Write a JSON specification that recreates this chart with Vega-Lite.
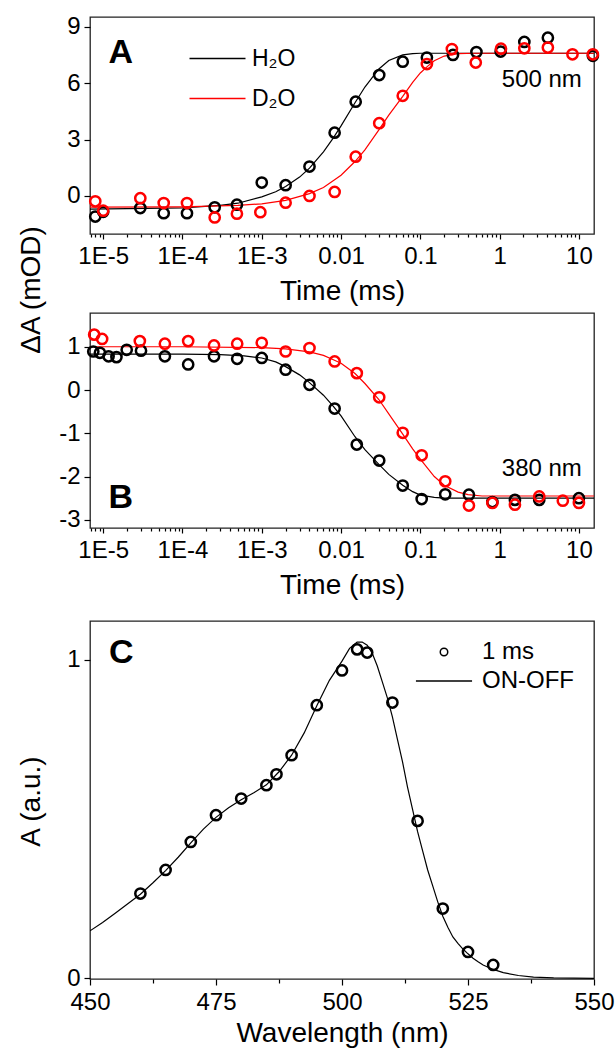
{
  "$schema": "https://vega.github.io/schema/vega-lite/v6.json",
  "padding": {"left": 16, "top": 14, "right": 5, "bottom": 0},
  "background": "white",
  "config": {
    "font": "Liberation Sans",
    "view": {"stroke": "#222", "strokeWidth": 1.3},
    "axis": {"labelFont": "Liberation Sans", "titleFont": "Liberation Sans", "labelFontSize": 24, "titleFontSize": 28, "titleFontWeight": "normal", "labelColor": "#000", "titleColor": "#000", "tickColor": "#000", "tickWidth": 1.2, "domain": false, "grid": false},
    "legend": {"labelFont": "Liberation Sans", "labelFontSize": 24, "labelColor": "#000"},
    "text": {"font": "Liberation Sans", "color": "#000"}
  },
  "resolve": {"legend": {"color": "independent", "stroke": "independent", "shape": "independent"}},
  "datasets": {
    "ap": [
      {"t": 7.95e-6, "v": -1.10, "s": "H₂O"}, {"t": 1e-5, "v": -0.85, "s": "H₂O"}, {"t": 2.94e-5, "v": -0.65, "s": "H₂O"}, {"t": 5.8e-5, "v": -0.92, "s": "H₂O"}, {"t": 1.14e-4, "v": -0.92, "s": "H₂O"}, {"t": 2.55e-4, "v": -0.61, "s": "H₂O"}, {"t": 4.86e-4, "v": -0.47, "s": "H₂O"}, {"t": 1e-3, "v": 0.71, "s": "H₂O"}, {"t": 2e-3, "v": 0.57, "s": "H₂O"}, {"t": 4e-3, "v": 1.56, "s": "H₂O"}, {"t": 8.3e-3, "v": 3.37, "s": "H₂O"}, {"t": 0.0153, "v": 5.02, "s": "H₂O"}, {"t": 0.0303, "v": 6.44, "s": "H₂O"}, {"t": 0.06, "v": 7.15, "s": "H₂O"}, {"t": 0.121, "v": 7.37, "s": "H₂O"}, {"t": 0.258, "v": 7.51, "s": "H₂O"}, {"t": 0.51, "v": 7.66, "s": "H₂O"}, {"t": 1.03, "v": 7.69, "s": "H₂O"}, {"t": 2.05, "v": 8.2, "s": "H₂O"}, {"t": 4.06, "v": 8.43, "s": "H₂O"}, {"t": 15, "v": 7.46, "s": "H₂O"},
      {"t": 7.95e-6, "v": -0.29, "s": "D₂O"}, {"t": 1e-5, "v": -0.79, "s": "D₂O"}, {"t": 2.94e-5, "v": -0.12, "s": "D₂O"}, {"t": 5.8e-5, "v": -0.38, "s": "D₂O"}, {"t": 1.14e-4, "v": -0.38, "s": "D₂O"}, {"t": 2.55e-4, "v": -1.15, "s": "D₂O"}, {"t": 4.86e-4, "v": -0.95, "s": "D₂O"}, {"t": 9.6e-4, "v": -0.87, "s": "D₂O"}, {"t": 2e-3, "v": -0.36, "s": "D₂O"}, {"t": 4e-3, "v": 0.0, "s": "D₂O"}, {"t": 8.3e-3, "v": 0.21, "s": "D₂O"}, {"t": 0.0153, "v": 2.09, "s": "D₂O"}, {"t": 0.0303, "v": 3.87, "s": "D₂O"}, {"t": 0.06, "v": 5.33, "s": "D₂O"}, {"t": 0.121, "v": 7.02, "s": "D₂O"}, {"t": 0.25, "v": 7.82, "s": "D₂O"}, {"t": 0.5, "v": 7.1, "s": "D₂O"}, {"t": 1.04, "v": 7.84, "s": "D₂O"}, {"t": 2.05, "v": 7.86, "s": "D₂O"}, {"t": 4.06, "v": 7.9, "s": "D₂O"}, {"t": 8.3, "v": 7.54, "s": "D₂O"}, {"t": 15, "v": 7.54, "s": "D₂O"}
    ],
    "af": [
      {"t": 6.8e-6, "v": -0.70, "s": "H₂O"}, {"t": 1e-4, "v": -0.64, "s": "H₂O"}, {"t": 3e-4, "v": -0.51, "s": "H₂O"}, {"t": 5e-4, "v": -0.39, "s": "H₂O"}, {"t": 1e-3, "v": -0.05, "s": "H₂O"}, {"t": 1.5e-3, "v": 0.22, "s": "H₂O"}, {"t": 2e-3, "v": 0.5, "s": "H₂O"}, {"t": 3e-3, "v": 1.0, "s": "H₂O"}, {"t": 4e-3, "v": 1.48, "s": "H₂O"}, {"t": 6e-3, "v": 2.35, "s": "H₂O"}, {"t": 8e-3, "v": 3.09, "s": "H₂O"}, {"t": 0.01, "v": 3.73, "s": "H₂O"}, {"t": 0.015, "v": 4.96, "s": "H₂O"}, {"t": 0.02, "v": 5.8, "s": "H₂O"}, {"t": 0.03, "v": 6.76, "s": "H₂O"}, {"t": 0.04, "v": 7.21, "s": "H₂O"}, {"t": 0.06, "v": 7.51, "s": "H₂O"}, {"t": 0.08, "v": 7.58, "s": "H₂O"}, {"t": 0.1, "v": 7.6, "s": "H₂O"}, {"t": 15.5, "v": 7.6, "s": "H₂O"},
      {"t": 6.8e-6, "v": -0.6, "s": "D₂O"}, {"t": 1e-4, "v": -0.58, "s": "D₂O"}, {"t": 5e-4, "v": -0.51, "s": "D₂O"}, {"t": 1e-3, "v": -0.42, "s": "D₂O"}, {"t": 2e-3, "v": -0.24, "s": "D₂O"}, {"t": 4e-3, "v": 0.12, "s": "D₂O"}, {"t": 6e-3, "v": 0.45, "s": "D₂O"}, {"t": 0.01, "v": 1.1, "s": "D₂O"}, {"t": 0.015, "v": 1.83, "s": "D₂O"}, {"t": 0.02, "v": 2.45, "s": "D₂O"}, {"t": 0.03, "v": 3.52, "s": "D₂O"}, {"t": 0.04, "v": 4.3, "s": "D₂O"}, {"t": 0.06, "v": 5.3, "s": "D₂O"}, {"t": 0.08, "v": 6.05, "s": "D₂O"}, {"t": 0.1, "v": 6.55, "s": "D₂O"}, {"t": 0.123, "v": 6.9, "s": "D₂O"}, {"t": 0.15, "v": 7.2, "s": "D₂O"}, {"t": 0.2, "v": 7.45, "s": "D₂O"}, {"t": 0.3, "v": 7.58, "s": "D₂O"}, {"t": 0.5, "v": 7.6, "s": "D₂O"}, {"t": 15.5, "v": 7.6, "s": "D₂O"}
    ],
    "bp": [
      {"t": 7.5e-6, "v": 0.89, "s": "H₂O"}, {"t": 9.1e-6, "v": 0.86, "s": "H₂O"}, {"t": 1.17e-5, "v": 0.78, "s": "H₂O"}, {"t": 1.47e-5, "v": 0.76, "s": "H₂O"}, {"t": 1.98e-5, "v": 0.93, "s": "H₂O"}, {"t": 3e-5, "v": 0.91, "s": "H₂O"}, {"t": 6e-5, "v": 0.78, "s": "H₂O"}, {"t": 1.18e-4, "v": 0.59, "s": "H₂O"}, {"t": 2.5e-4, "v": 0.78, "s": "H₂O"}, {"t": 4.9e-4, "v": 0.72, "s": "H₂O"}, {"t": 1e-3, "v": 0.74, "s": "H₂O"}, {"t": 2e-3, "v": 0.47, "s": "H₂O"}, {"t": 4e-3, "v": 0.12, "s": "H₂O"}, {"t": 8.3e-3, "v": -0.43, "s": "H₂O"}, {"t": 0.0158, "v": -1.26, "s": "H₂O"}, {"t": 0.0303, "v": -1.63, "s": "H₂O"}, {"t": 0.06, "v": -2.21, "s": "H₂O"}, {"t": 0.104, "v": -2.52, "s": "H₂O"}, {"t": 0.206, "v": -2.41, "s": "H₂O"}, {"t": 0.41, "v": -2.42, "s": "H₂O"}, {"t": 0.81, "v": -2.59, "s": "H₂O"}, {"t": 1.56, "v": -2.54, "s": "H₂O"}, {"t": 3.16, "v": -2.54, "s": "H₂O"}, {"t": 10, "v": -2.5, "s": "H₂O"},
      {"t": 7.7e-6, "v": 1.28, "s": "D₂O"}, {"t": 9.7e-6, "v": 1.18, "s": "D₂O"}, {"t": 2.9e-5, "v": 1.13, "s": "D₂O"}, {"t": 6e-5, "v": 1.07, "s": "D₂O"}, {"t": 1.18e-4, "v": 1.13, "s": "D₂O"}, {"t": 2.5e-4, "v": 1.03, "s": "D₂O"}, {"t": 4.9e-4, "v": 1.07, "s": "D₂O"}, {"t": 1e-3, "v": 1.09, "s": "D₂O"}, {"t": 2e-3, "v": 0.89, "s": "D₂O"}, {"t": 4e-3, "v": 0.97, "s": "D₂O"}, {"t": 8.3e-3, "v": 0.66, "s": "D₂O"}, {"t": 0.0158, "v": 0.39, "s": "D₂O"}, {"t": 0.0303, "v": -0.17, "s": "D₂O"}, {"t": 0.06, "v": -0.99, "s": "D₂O"}, {"t": 0.104, "v": -1.51, "s": "D₂O"}, {"t": 0.206, "v": -2.11, "s": "D₂O"}, {"t": 0.41, "v": -2.67, "s": "D₂O"}, {"t": 0.81, "v": -2.61, "s": "D₂O"}, {"t": 1.56, "v": -2.65, "s": "D₂O"}, {"t": 3.16, "v": -2.46, "s": "D₂O"}, {"t": 6.27, "v": -2.56, "s": "D₂O"}, {"t": 10, "v": -2.61, "s": "D₂O"}
    ],
    "bf": [
      {"t": 6.8e-6, "v": 0.83, "s": "H₂O"}, {"t": 1e-4, "v": 0.83, "s": "H₂O"}, {"t": 3e-4, "v": 0.82, "s": "H₂O"}, {"t": 6e-4, "v": 0.79, "s": "H₂O"}, {"t": 1e-3, "v": 0.74, "s": "H₂O"}, {"t": 1.5e-3, "v": 0.65, "s": "H₂O"}, {"t": 2e-3, "v": 0.54, "s": "H₂O"}, {"t": 3e-3, "v": 0.35, "s": "H₂O"}, {"t": 4e-3, "v": 0.17, "s": "H₂O"}, {"t": 6e-3, "v": -0.12, "s": "H₂O"}, {"t": 8e-3, "v": -0.38, "s": "H₂O"}, {"t": 0.01, "v": -0.6, "s": "H₂O"}, {"t": 0.015, "v": -1.08, "s": "H₂O"}, {"t": 0.02, "v": -1.38, "s": "H₂O"}, {"t": 0.03, "v": -1.72, "s": "H₂O"}, {"t": 0.04, "v": -1.95, "s": "H₂O"}, {"t": 0.06, "v": -2.2, "s": "H₂O"}, {"t": 0.08, "v": -2.35, "s": "H₂O"}, {"t": 0.1, "v": -2.43, "s": "H₂O"}, {"t": 0.15, "v": -2.48, "s": "H₂O"}, {"t": 0.2, "v": -2.5, "s": "H₂O"}, {"t": 15.5, "v": -2.5, "s": "H₂O"},
      {"t": 6.8e-6, "v": 1.0, "s": "D₂O"}, {"t": 1e-4, "v": 1.0, "s": "D₂O"}, {"t": 1e-3, "v": 0.98, "s": "D₂O"}, {"t": 2e-3, "v": 0.95, "s": "D₂O"}, {"t": 4e-3, "v": 0.88, "s": "D₂O"}, {"t": 6e-3, "v": 0.8, "s": "D₂O"}, {"t": 8e-3, "v": 0.7, "s": "D₂O"}, {"t": 0.01, "v": 0.62, "s": "D₂O"}, {"t": 0.015, "v": 0.38, "s": "D₂O"}, {"t": 0.02, "v": 0.15, "s": "D₂O"}, {"t": 0.03, "v": -0.22, "s": "D₂O"}, {"t": 0.04, "v": -0.55, "s": "D₂O"}, {"t": 0.06, "v": -1.02, "s": "D₂O"}, {"t": 0.08, "v": -1.36, "s": "D₂O"}, {"t": 0.1, "v": -1.6, "s": "D₂O"}, {"t": 0.15, "v": -2.0, "s": "D₂O"}, {"t": 0.2, "v": -2.2, "s": "D₂O"}, {"t": 0.3, "v": -2.36, "s": "D₂O"}, {"t": 0.4, "v": -2.42, "s": "D₂O"}, {"t": 0.6, "v": -2.45, "s": "D₂O"}, {"t": 15.5, "v": -2.45, "s": "D₂O"}
    ],
    "cp": [
      {"w": 460, "a": 0.266, "s": "1 ms"}, {"w": 465, "a": 0.34, "s": "1 ms"}, {"w": 470, "a": 0.428, "s": "1 ms"}, {"w": 475, "a": 0.512, "s": "1 ms"}, {"w": 480, "a": 0.564, "s": "1 ms"}, {"w": 485, "a": 0.606, "s": "1 ms"}, {"w": 487, "a": 0.64, "s": "1 ms"}, {"w": 490, "a": 0.70, "s": "1 ms"}, {"w": 495, "a": 0.857, "s": "1 ms"}, {"w": 500, "a": 0.966, "s": "1 ms"}, {"w": 503, "a": 1.032, "s": "1 ms"}, {"w": 505, "a": 1.022, "s": "1 ms"}, {"w": 510, "a": 0.865, "s": "1 ms"}, {"w": 515, "a": 0.494, "s": "1 ms"}, {"w": 520, "a": 0.219, "s": "1 ms"}, {"w": 525, "a": 0.083, "s": "1 ms"}, {"w": 530, "a": 0.042, "s": "1 ms"}
    ],
    "cf": [
      {"w": 450, "a": 0.149}, {"w": 452.5, "a": 0.175}, {"w": 455, "a": 0.204}, {"w": 457.5, "a": 0.234}, {"w": 460, "a": 0.264}, {"w": 462.5, "a": 0.3}, {"w": 465, "a": 0.338}, {"w": 467.5, "a": 0.38}, {"w": 470, "a": 0.425}, {"w": 472.5, "a": 0.468}, {"w": 475, "a": 0.505}, {"w": 477.5, "a": 0.535}, {"w": 480, "a": 0.56}, {"w": 482.5, "a": 0.582}, {"w": 485, "a": 0.607}, {"w": 487.5, "a": 0.648}, {"w": 490, "a": 0.70}, {"w": 492.5, "a": 0.77}, {"w": 495, "a": 0.855}, {"w": 497.5, "a": 0.935}, {"w": 500, "a": 0.995}, {"w": 501.5, "a": 1.035}, {"w": 503, "a": 1.055}, {"w": 504, "a": 1.055}, {"w": 505, "a": 1.045}, {"w": 506, "a": 1.02}, {"w": 507, "a": 0.98}, {"w": 508, "a": 0.93}, {"w": 509, "a": 0.88}, {"w": 510, "a": 0.82}, {"w": 511, "a": 0.75}, {"w": 512, "a": 0.68}, {"w": 513, "a": 0.6}, {"w": 514, "a": 0.53}, {"w": 515, "a": 0.46}, {"w": 516, "a": 0.4}, {"w": 517, "a": 0.34}, {"w": 518, "a": 0.29}, {"w": 519, "a": 0.24}, {"w": 520, "a": 0.195}, {"w": 521, "a": 0.16}, {"w": 522, "a": 0.13}, {"w": 523, "a": 0.11}, {"w": 524, "a": 0.092}, {"w": 525, "a": 0.077}, {"w": 526, "a": 0.063}, {"w": 527, "a": 0.052}, {"w": 528, "a": 0.042}, {"w": 530, "a": 0.028}, {"w": 532, "a": 0.018}, {"w": 535, "a": 0.009}, {"w": 538, "a": 0.004}, {"w": 542, "a": 0.0015}, {"w": 546, "a": 0.0005}, {"w": 550, "a": 0.0}
    ]
  },
  "vconcat": [
    {
      "bounds": "flush",
      "spacing": 79,
      "resolve": {"legend": {"color": "independent", "stroke": "independent", "shape": "independent"}},
      "vconcat": [
        {
          "width": 504,
          "height": 217,
          "resolve": {"axis": {"x": "independent", "y": "independent"}},
          "layer": [
            {
              "mark": {"type": "rule", "color": "#555", "strokeWidth": 1.2},
              "encoding": {"y": {"datum": 0, "type": "quantitative", "scale": {"domain": [-2.03, 9.53]}, "axis": null}}
            },
            {
              "data": {"name": "af"},
              "mark": {"type": "line", "strokeWidth": 1.2, "clip": true},
              "encoding": {
                "x": {"field": "t", "type": "quantitative", "scale": {"type": "log", "domain": [6.82e-6, 15.5]}, "axis": {"orient": "bottom", "values": [7e-6, 8e-6, 9e-6, 2e-5, 3e-5, 4e-5, 5e-5, 6e-5, 7e-5, 8e-5, 9e-5, 2e-4, 3e-4, 4e-4, 5e-4, 6e-4, 7e-4, 8e-4, 9e-4, 0.002, 0.003, 0.004, 0.005, 0.006, 0.007, 0.008, 0.009, 0.02, 0.03, 0.04, 0.05, 0.06, 0.07, 0.08, 0.09, 0.2, 0.3, 0.4, 0.5, 0.6, 0.7, 0.8, 0.9, 2, 3, 4, 5, 6, 7, 8, 9], "labels": false, "tickSize": 3, "title": null}},
                "y": {"field": "v", "type": "quantitative", "scale": {"domain": [-2.03, 9.53]}, "axis": null},
                "color": {"field": "s", "type": "nominal", "sort": null, "scale": {"domain": ["H₂O", "D₂O"], "range": ["#000000", "#ff0000"]}, "legend": {"orient": "none", "legendX": 116, "legendY": 30, "title": null, "padding": 0, "symbolType": "M-7,0H7", "symbolSize": 64, "symbolStrokeWidth": 1.3, "labelOffset": 23, "rowPadding": 16, "labelFontSize": 23}}
              }
            },
            {
              "data": {"name": "ap"},
              "mark": {"type": "point", "filled": false, "size": 105, "strokeWidth": 2.5, "opacity": 1},
              "encoding": {
                "x": {"field": "t", "type": "quantitative", "scale": {"type": "log", "domain": [6.82e-6, 15.5]}, "axis": {"orient": "bottom", "values": [1e-5, 1e-4, 0.001, 0.01, 0.1, 1, 10], "labelExpr": "datum.value < 0.005 ? '1E' + round(log(datum.value)/LN10) : datum.value < 0.05 ? '0.01' : datum.value < 0.5 ? '0.1' : datum.value < 5 ? '1' : '10'", "tickSize": 5, "labelPadding": 5, "labelFlush": false, "labelOverlap": false, "title": "Time (ms)", "titleY": 57, "titleBaseline": "middle"}},
                "y": {"field": "v", "type": "quantitative", "scale": {"domain": [-2.03, 9.53]}, "axis": {"orient": "left", "values": [0, 3, 6, 9], "tickSize": 6, "labelPadding": 4, "title": "ΔA (mOD)", "titleX": -58.5, "titleY": 272.5, "titleBaseline": "middle", "titleAlign": "center", "titleAngle": 270}},
                "stroke": {"field": "s", "type": "nominal", "sort": null, "scale": {"domain": ["H₂O", "D₂O"], "range": ["#000000", "#ff0000"]}, "legend": null}
              }
            },
            {
              "data": {"values": [{"label": "A"}]},
              "mark": {"type": "text", "fontSize": 34, "fontWeight": "bold", "align": "center", "baseline": "middle"},
              "encoding": {
                "x": {"datum": 1.67e-5, "type": "quantitative", "scale": {"type": "log", "domain": [6.82e-6, 15.5]}, "axis": null},
                "y": {"datum": 7.59, "type": "quantitative", "scale": {"domain": [-2.03, 9.53]}, "axis": null},
                "text": {"field": "label"}
              }
            },
            {
              "data": {"values": [{"label": "500 nm"}]},
              "mark": {"type": "text", "fontSize": 24, "align": "right", "baseline": "middle"},
              "encoding": {
                "x": {"datum": 10.9, "type": "quantitative", "scale": {"type": "log", "domain": [6.82e-6, 15.5]}, "axis": null},
                "y": {"datum": 6.2, "type": "quantitative", "scale": {"domain": [-2.03, 9.53]}, "axis": null},
                "text": {"field": "label"}
              }
            }
          ]
        },
        {
          "width": 504,
          "height": 215,
          "resolve": {"axis": {"x": "independent", "y": "independent"}},
          "layer": [
            {
              "mark": {"type": "rule", "color": "#555", "strokeWidth": 1.2},
              "encoding": {"y": {"datum": 0, "type": "quantitative", "scale": {"domain": [-3.19, 1.78]}, "axis": null}}
            },
            {
              "data": {"name": "bf"},
              "mark": {"type": "line", "strokeWidth": 1.2, "clip": true},
              "encoding": {
                "x": {"field": "t", "type": "quantitative", "scale": {"type": "log", "domain": [6.82e-6, 15.5]}, "axis": {"orient": "bottom", "values": [7e-6, 8e-6, 9e-6, 2e-5, 3e-5, 4e-5, 5e-5, 6e-5, 7e-5, 8e-5, 9e-5, 2e-4, 3e-4, 4e-4, 5e-4, 6e-4, 7e-4, 8e-4, 9e-4, 0.002, 0.003, 0.004, 0.005, 0.006, 0.007, 0.008, 0.009, 0.02, 0.03, 0.04, 0.05, 0.06, 0.07, 0.08, 0.09, 0.2, 0.3, 0.4, 0.5, 0.6, 0.7, 0.8, 0.9, 2, 3, 4, 5, 6, 7, 8, 9], "labels": false, "tickSize": 3, "title": null}},
                "y": {"field": "v", "type": "quantitative", "scale": {"domain": [-3.19, 1.78]}, "axis": null},
                "color": {"field": "s", "type": "nominal", "sort": null, "scale": {"domain": ["H₂O", "D₂O"], "range": ["#000000", "#ff0000"]}, "legend": null}
              }
            },
            {
              "data": {"name": "bp"},
              "mark": {"type": "point", "filled": false, "size": 105, "strokeWidth": 2.5, "opacity": 1},
              "encoding": {
                "x": {"field": "t", "type": "quantitative", "scale": {"type": "log", "domain": [6.82e-6, 15.5]}, "axis": {"orient": "bottom", "values": [1e-5, 1e-4, 0.001, 0.01, 0.1, 1, 10], "labelExpr": "datum.value < 0.005 ? '1E' + round(log(datum.value)/LN10) : datum.value < 0.05 ? '0.01' : datum.value < 0.5 ? '0.1' : datum.value < 5 ? '1' : '10'", "tickSize": 5, "labelPadding": 5, "labelFlush": false, "labelOverlap": false, "title": "Time (ms)", "titleY": 57, "titleBaseline": "middle"}},
                "y": {"field": "v", "type": "quantitative", "scale": {"domain": [-3.19, 1.78]}, "axis": {"orient": "left", "values": [-3, -2, -1, 0, 1], "labelExpr": "datum.value < 0 ? '-' + (-datum.value) : '' + datum.value", "tickSize": 6, "labelPadding": 4, "title": null}},
                "stroke": {"field": "s", "type": "nominal", "sort": null, "scale": {"domain": ["H₂O", "D₂O"], "range": ["#000000", "#ff0000"]}, "legend": null}
              }
            },
            {
              "data": {"values": [{"label": "B"}]},
              "mark": {"type": "text", "fontSize": 34, "fontWeight": "bold", "align": "center", "baseline": "middle"},
              "encoding": {
                "x": {"datum": 1.67e-5, "type": "quantitative", "scale": {"type": "log", "domain": [6.82e-6, 15.5]}, "axis": null},
                "y": {"datum": -2.49, "type": "quantitative", "scale": {"domain": [-3.19, 1.78]}, "axis": null},
                "text": {"field": "label"}
              }
            },
            {
              "data": {"values": [{"label": "380 nm"}]},
              "mark": {"type": "text", "fontSize": 24, "align": "right", "baseline": "middle"},
              "encoding": {
                "x": {"datum": 10.9, "type": "quantitative", "scale": {"type": "log", "domain": [6.82e-6, 15.5]}, "axis": null},
                "y": {"datum": -1.82, "type": "quantitative", "scale": {"domain": [-3.19, 1.78]}, "axis": null},
                "text": {"field": "label"}
              }
            }
          ]
        }
      ]
    },
    {
      "width": 504,
      "height": 358,
      "resolve": {"axis": {"x": "independent", "y": "independent"}},
      "layer": [
        {
          "data": {"name": "cf"},
          "mark": {"type": "line", "strokeWidth": 1.2, "color": "#000", "clip": true},
          "encoding": {
            "x": {"field": "w", "type": "quantitative", "scale": {"domain": [450, 550]}, "axis": {"orient": "bottom", "values": [462.5, 487.5, 512.5, 537.5], "labels": false, "tickSize": 4, "title": null}},
            "y": {"field": "a", "type": "quantitative", "scale": {"domain": [-0.002, 1.121]}, "axis": null}
          }
        },
        {
          "data": {"name": "cp"},
          "mark": {"type": "point", "filled": false, "size": 105, "strokeWidth": 2.5, "color": "#000", "opacity": 1},
          "encoding": {
            "x": {"field": "w", "type": "quantitative", "scale": {"domain": [450, 550]}, "axis": {"orient": "bottom", "values": [450, 475, 500, 525, 550], "tickSize": 6, "labelPadding": 5, "labelFlush": false, "labelOverlap": false, "title": "Wavelength (nm)", "titleY": 54, "titleBaseline": "middle"}},
            "y": {"field": "a", "type": "quantitative", "scale": {"domain": [-0.002, 1.121]}, "axis": {"orient": "left", "values": [0, 1], "format": "d", "tickSize": 6, "labelPadding": 4, "title": "A (a.u.)", "titleX": -58.5, "titleY": 180, "titleBaseline": "middle", "titleAlign": "center", "titleAngle": 270}},
            "shape": {"field": "s", "type": "nominal", "scale": {"domain": ["1 ms", "ON-OFF"], "range": ["circle", "M-7.5,0H7.5"]}, "legend": {"orient": "none", "legendX": 342, "legendY": 19, "title": null, "padding": 0, "symbolSize": 56, "symbolStrokeColor": "#000", "symbolFillColor": "transparent", "labelOffset": 26, "rowPadding": 5, "labelFontSize": 24, "encode": {"symbols": {"update": {"strokeWidth": {"signal": "datum.value === 'ON-OFF' ? 1.2 : 2.3"}, "size": {"value": 56}}}}}}
          }
        },
        {
          "data": {"values": [{"label": "C"}]},
          "mark": {"type": "text", "fontSize": 34, "fontWeight": "bold", "align": "center", "baseline": "middle"},
          "encoding": {
            "x": {"datum": 456.2, "type": "quantitative", "scale": {"domain": [450, 550]}, "axis": null},
            "y": {"datum": 1.021, "type": "quantitative", "scale": {"domain": [-0.002, 1.121]}, "axis": null},
            "text": {"field": "label"}
          }
        }
      ]
    }
  ],
  "spacing": 20
}
